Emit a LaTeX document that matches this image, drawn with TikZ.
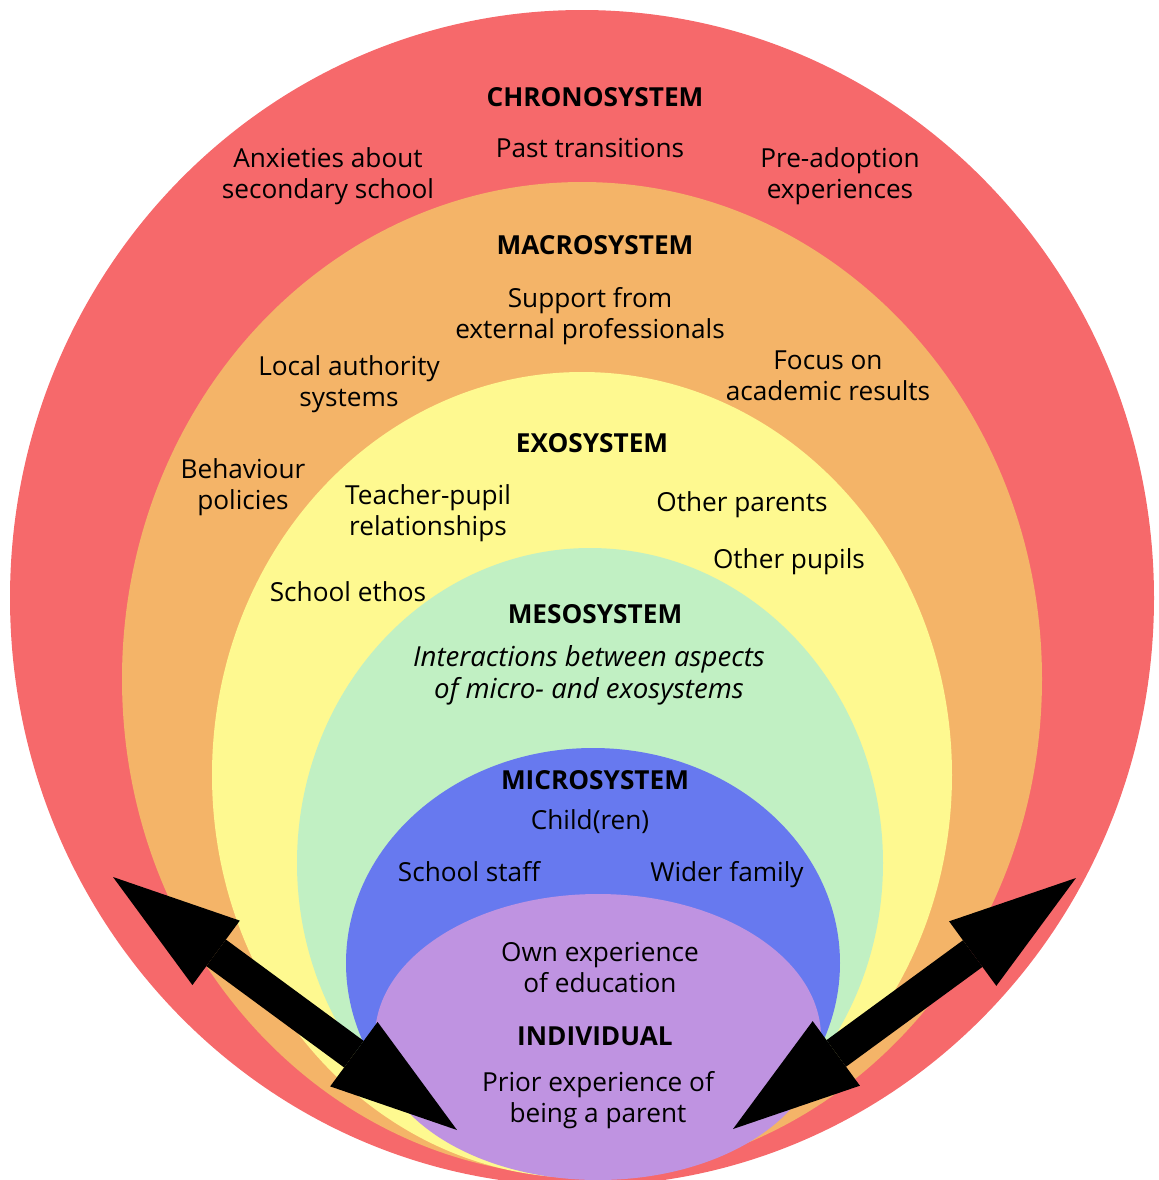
\documentclass[tikz,border=0pt]{standalone}
\usepackage{fontspec}
\setmainfont{Open Sans}
\usepackage{tikz}
\usetikzlibrary{arrows.meta}

\definecolor{chronored}{RGB}{246,105,107}
\definecolor{macroorange}{RGB}{244,180,104}
\definecolor{exoyellow}{RGB}{254,249,144}
\definecolor{mesogreen}{RGB}{193,240,195}
\definecolor{microblue}{RGB}{103,121,239}
\definecolor{indivpurple}{RGB}{191,147,225}

\tikzset{
  txt/.style={align=center, inner sep=0pt, font=\fontsize{13.1}{15.5}\selectfont},
  sysname/.style={txt, font=\fontsize{13.1}{15.5}\selectfont\bfseries},
  bigarrow/.style={line width=16.5pt,
    {Triangle[length=64pt,width=40pt,line width'=0pt]}-{Triangle[length=64pt,width=40pt,line width'=0pt]}}
}

\begin{document}
\begin{tikzpicture}[x=0.5pt, y=-0.5pt]
            \useasboundingbox (0,0) rectangle (1159,1180);

            % Draw the nested systems, outside in
            \fill[chronored] (582,598) ellipse [x radius=572, y radius=588];
            \fill[macroorange] (582,679) ellipse [x radius=460, y radius=497];
            \fill[exoyellow] (582,775) ellipse [x radius=370, y radius=403];
            \fill[mesogreen] (590,863) ellipse [x radius=293, y radius=315];
            \fill[microblue] (593,963) ellipse [x radius=247, y radius=215];
            \fill[indivpurple] (598,1037) ellipse [x radius=223, y radius=143];

            % Chronosystem
            \node[sysname] (chrono) at (595,97) {CHRONOSYSTEM};
            \node[txt] (past) at (590,148) {Past transitions};
            \node[txt] (anx) at (328,176) {Anxieties about\\secondary school};
            \node[txt] (preadopt) at (840,176) {Pre-adoption\\experiences};

            % Macrosystem
            \node[sysname] (macro) at (595,245) {MACROSYSTEM};
            \node[txt] (support) at (590,316) {Support from\\external professionals};
            \node[txt] (local) at (349,384) {Local authority\\systems};
            \node[txt] (focus) at (828,376) {Focus on\\academic results};
            \node[txt] (behav) at (243,487) {Behaviour\\policies};

            % Exosystem
            \node[sysname] (exo) at (592,443) {EXOSYSTEM};
            \node[txt] (teacher) at (428,513) {Teacher-pupil\\relationships};
            \node[txt] (oparents) at (742,505) {Other parents};
            \node[txt] (opupils) at (789,562) {Other pupils};
            \node[txt] (ethos) at (348,592) {School ethos};

            % Mesosystem
            \node[sysname] (meso) at (595,614) {MESOSYSTEM};
            \node[txt, font=\fontsize{13.8}{16}\selectfont\itshape] (inter) at (589,675) {Interactions between aspects\\of micro- and exosystems};

            % Microsystem
            \node[sysname] (micro) at (595,780) {MICROSYSTEM};
            \node[txt] (child) at (590,822) {Child(ren)};
            \node[txt] (staff) at (469,872) {School staff};
            \node[txt] (family) at (727,875) {Wider family};

            % Individual
            \node[txt] (ownexp) at (600,968) {Own experience\\of education};
            \node[sysname] (indiv) at (595,1036) {INDIVIDUAL};
            \node[txt] (prior) at (598,1100) {Prior experience of\\being a parent};

            % Two-way arrows
            \coordinate (lout) at (113,877);
            \coordinate (lin) at (457,1130);
            \coordinate (rout) at (1076,878);
            \coordinate (rin) at (733,1129);
            \draw[bigarrow] (lout) -- (lin);
            \draw[bigarrow] (rout) -- (rin);

        \end{tikzpicture}
\end{document}
